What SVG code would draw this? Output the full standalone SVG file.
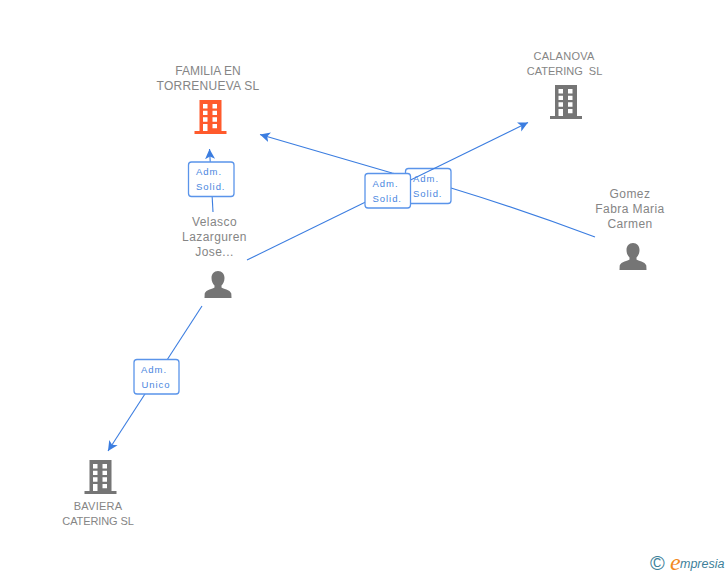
<svg xmlns="http://www.w3.org/2000/svg" width="728" height="575" viewBox="0 0 728 575">
<style>
text{font-family:"Liberation Sans",Arial,sans-serif}
.n{font-size:12px;fill:#858585;text-anchor:middle;white-space:pre}
.s{font-size:11px;letter-spacing:.25px}
.p{letter-spacing:.42px}
.l{font-size:9.5px;fill:#4a86e0;letter-spacing:.95px}
.c{fill:none;stroke:#3b7de0;stroke-width:1.1}
.b{fill:#fff;stroke:#5a94ea;stroke-width:1.3}
.w{fill:#fff}
</style>
<defs>
<symbol id="bld" viewBox="0 0 32 34" width="32" height="34" overflow="visible">
<path fill="currentColor" d="M5 0H27V31H32V34H0V31H5Z"/>
<path class="w" d="M8.500 4H13V8.500H8.500ZM18 4H22.500V8.500H18ZM8.500 10.700H13V15H8.500ZM18 10.700H22.500V15H18ZM8.500 17.300H13V21.700H8.500ZM18 17.300H22.500V21.700H18ZM8.500 24H13V31H8.500ZM18 24H22.500V28.300H18Z"/>
</symbol>
<symbol id="per" viewBox="0 0 28 28" width="28" height="28" overflow="visible">
<path fill="#757575" d="M14 0C18 0 20.500 3 20.500 7C20.500 10.500 19 13 17.500 14.500V16.500C19 18 26 18.500 27.300 22.500L27.500 27H.5L.7 22.500C2 18.500 9 18 10.500 16.500V14.500C9 13 7.500 10.500 7.500 7C7.500 3 10 0 14 0Z"/>
</symbol>
<marker id="a" markerWidth="12" markerHeight="12" refX="10" refY="5" orient="auto" markerUnits="userSpaceOnUse">
<path d="M0 0L10 5L0 10L2.500 5Z" fill="#3b7de0"/>
</marker>
</defs>
<g id="connectors">
<path class="c" d="M595 237Q520 209 451 188L392 173L260 134.500" marker-end="url(#a)"/>
<path class="c" d="M213 212L209.500 149" marker-end="url(#a)"/>
<path class="c" d="M202 306L108 451" marker-end="url(#a)"/>
</g>
<g id="edge-label-gomez"><rect class="b" x="405.500" y="168.500" width="45.500" height="35" rx="3"/><text class="l" x="413" y="182">Adm.</text><text class="l" x="413" y="197">Solid.</text></g>
<g id="connectors-2"><path class="c" d="M247 260L528 122.500" marker-end="url(#a)"/></g>
<g id="edge-label-velasco-calanova"><rect class="b" x="365" y="173.500" width="45.500" height="34.500" rx="3"/><text class="l" x="372.500" y="187">Adm.</text><text class="l" x="372.500" y="202">Solid.</text></g>
<g id="edge-label-velasco-familia"><rect class="b" x="188.500" y="162" width="45.500" height="34.500" rx="3"/><text class="l" x="196" y="175">Adm.</text><text class="l" x="196" y="190">Solid.</text></g>
<g id="edge-label-velasco-baviera"><rect class="b" x="134" y="359.500" width="45" height="34.500" rx="3"/><text class="l" x="141" y="373">Adm.</text><text class="l" x="141.500" y="388">Unico</text></g>
<g id="familia" color="#ff5a2c"><text class="n" x="208" y="75">FAMILIA EN</text><text class="n" x="208" y="90" style="letter-spacing:.25px">TORRENUEVA SL</text><use href="#bld" x="194.500" y="100"/></g>
<g id="calanova" color="#757575"><text class="n s" x="564" y="60">CALANOVA</text><text class="n" x="564.500" y="75" style="font-size:11px">CATERING  SL</text><use href="#bld" x="550" y="85"/></g>
<g id="baviera" color="#757575"><text class="n s" x="98" y="510">BAVIERA</text><text class="n" x="98" y="525" style="font-size:11px;letter-spacing:-.1px">CATERING SL</text><use href="#bld" x="84.500" y="460"/></g>
<g id="velasco"><text class="n p" x="214.500" y="226">Velasco</text><text class="n p" x="214.500" y="241">Lazarguren</text><text class="n p" x="214.500" y="256">Jose...</text><use href="#per" x="204" y="271"/></g>
<g id="gomez"><text class="n p" x="630" y="198">Gomez</text><text class="n p" x="630" y="213">Fabra Maria</text><text class="n p" x="630" y="228">Carmen</text><use href="#per" x="619" y="243"/></g>
<g id="logo"><text x="650" y="570" style="font-size:20px;fill:#3d7f9a">©</text><text x="670" y="570" style="font-size:24px;font-style:italic;fill:#f28a1e;font-family:'Liberation Serif',serif">e</text><text x="680" y="568" style="font-size:12.500px;font-style:italic;fill:#3d7f9a">mpresia</text></g>
</svg>
